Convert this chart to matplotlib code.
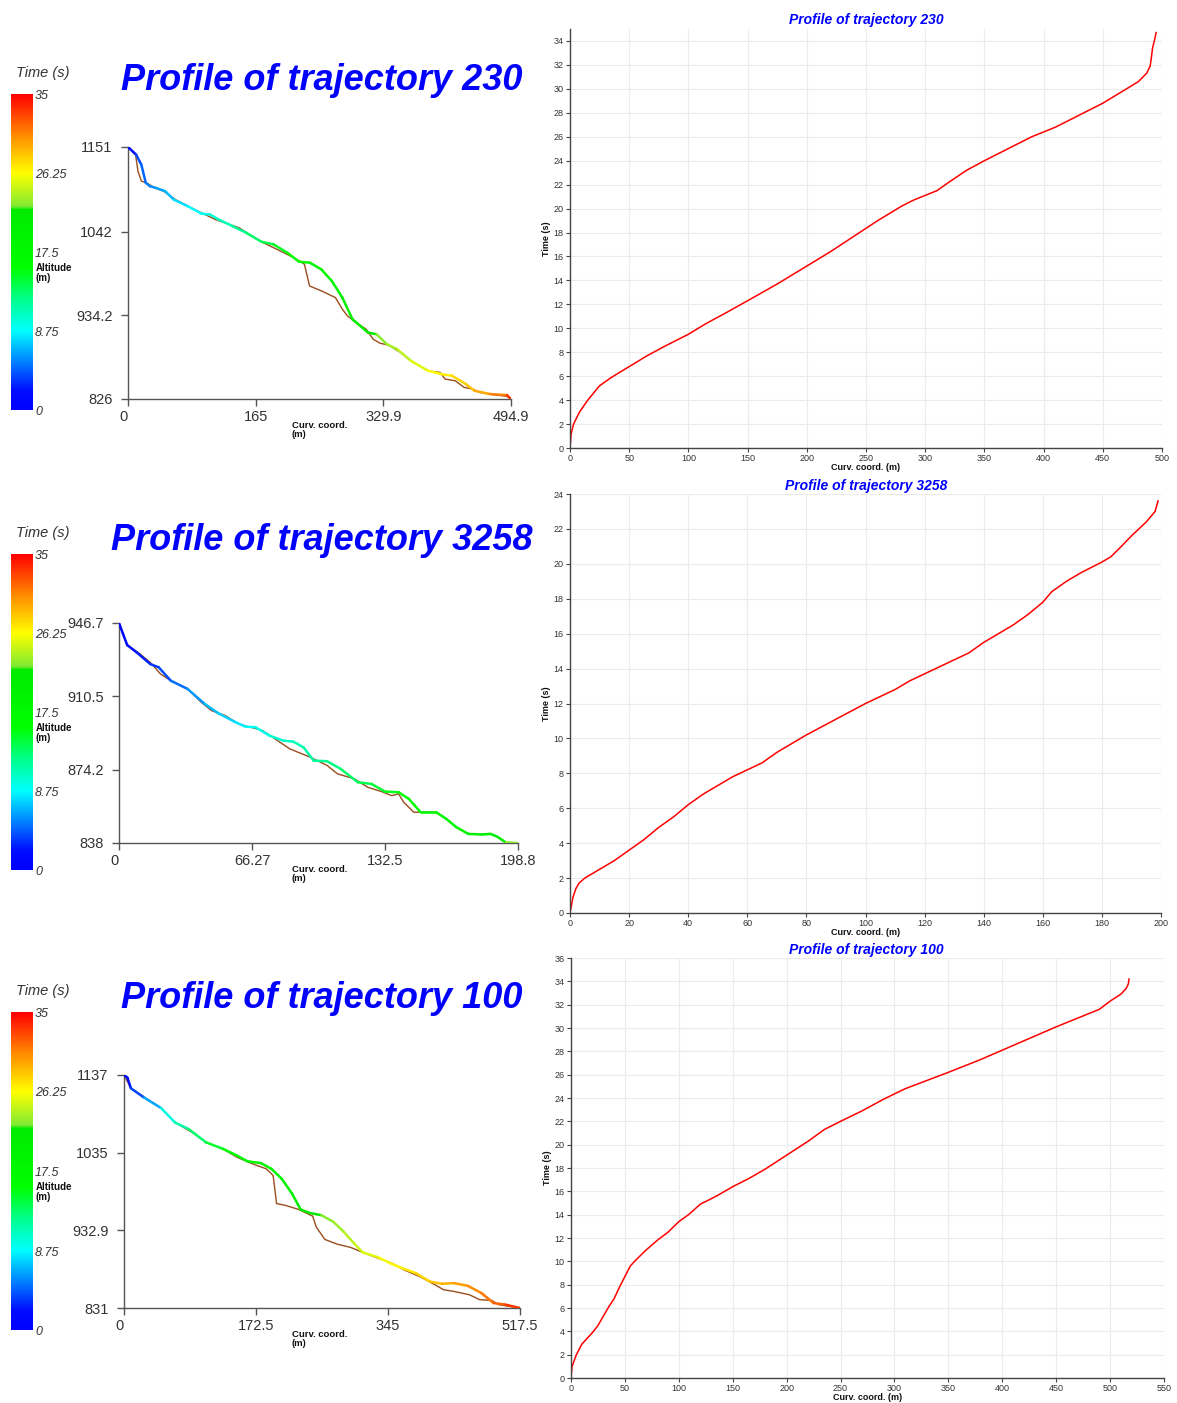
import numpy as np
import matplotlib
matplotlib.use("Agg")
import matplotlib.pyplot as plt
from matplotlib.collections import LineCollection
from matplotlib.colors import LinearSegmentedColormap, Normalize
import matplotlib.cm as cm

W, H = 1177, 1403
plt.rcParams['font.family'] = ['Liberation Sans', 'DejaVu Sans']

# ---------------- data ----------------
traj_ids = ["230", "3258", "100"]

# Time vs curvilinear coordinate (right panels)
t230_s = [0, 1, 3, 8, 15, 25, 35, 50, 65, 80, 100, 115, 130, 150, 175, 200, 220, 240, 260, 280, 290,
          300, 310, 320, 335, 350, 370, 390, 410, 430, 450, 470, 480, 487, 490, 491, 492, 494, 495]
t230_t = [0, 1.2, 2.0, 3.0, 4.0, 5.2, 5.9, 6.8, 7.7, 8.5, 9.5, 10.4, 11.2, 12.3, 13.7, 15.2, 16.4, 17.7,
          19.0, 20.2, 20.7, 21.1, 21.5, 22.2, 23.2, 24.0, 25.0, 26.0, 26.8, 27.8, 28.8, 30.0, 30.6, 31.3,
          31.9, 32.6, 33.4, 34.2, 34.7]

t3258_s = [0, 1, 2, 3, 5, 10, 15, 20, 25, 30, 35, 40, 45, 50, 55, 60, 65, 70, 80, 90, 100, 110, 115,
           120, 130, 135, 140, 150, 155, 160, 163, 168, 173, 180, 183, 186, 190, 195, 198, 199]
t3258_t = [0, 0.9, 1.4, 1.7, 2.0, 2.5, 3.0, 3.6, 4.2, 4.9, 5.5, 6.2, 6.8, 7.3, 7.8, 8.2, 8.6, 9.2, 10.2,
           11.1, 12.0, 12.8, 13.3, 13.7, 14.5, 14.9, 15.5, 16.5, 17.1, 17.8, 18.4, 19.0, 19.5, 20.1, 20.4,
           20.9, 21.6, 22.4, 23.0, 23.6]

t100_s = [0, 1, 5, 10, 15, 20, 25, 30, 35, 40, 45, 50, 55, 60, 70, 80, 90, 100, 109, 120, 135, 150, 165,
          180, 200, 220, 235, 250, 270, 290, 310, 330, 350, 380, 400, 450, 490, 500, 510, 515, 517, 517.5]
t100_t = [0, 1.0, 2.0, 2.9, 3.4, 3.9, 4.5, 5.3, 6.1, 6.8, 7.8, 8.7, 9.6, 10.1, 11.0, 11.8, 12.5, 13.4,
          14.0, 14.9, 15.6, 16.4, 17.1, 17.9, 19.1, 20.3, 21.3, 22.0, 22.9, 23.9, 24.8, 25.5, 26.2, 27.3,
          28.1, 30.1, 31.6, 32.3, 32.9, 33.4, 33.8, 34.2]

# Altitude profiles (left panels): trajectory (coloured by time) and terrain (brown)
p230_traj_s = [0, 10.6, 17.3, 23, 28.4, 37, 48, 59.4, 77, 95, 106, 117, 135, 152.6, 172.5, 188, 206,
               221, 235, 250, 263.5, 277, 290, 310, 321, 334.4, 347.7, 365.5, 387.7, 405.4, 418.7,
               436.5, 447.6, 467.5, 489.7, 494.9]
p230_traj_z = [1151, 1141, 1128, 1104.7, 1100.4, 1098, 1094, 1083, 1074.7, 1065, 1064, 1057.5, 1049,
               1040.4, 1028.8, 1025.4, 1014.6, 1003, 1001.8, 993, 978, 956.7, 928.9, 911.7, 909.6,
               896.7, 890.3, 875.3, 862.4, 858, 856, 845.3, 836.7, 832.4, 831, 826]
p230_terr_s = [0, 9.8, 12.9, 17.3, 24, 35, 46, 61.7, 82, 99.4, 112.7, 126, 143.7, 163.7, 174.8, 192.5,
               210, 223.5, 228, 234.6, 250, 268, 277, 283.4, 294.5, 307.8, 316.7, 325.6, 336.7, 352.2,
               365.5, 387.7, 403.2, 409.8, 423, 434.2, 445.3, 454, 471.7, 489.5, 494.9]
p230_terr_z = [1151, 1141, 1119.7, 1107, 1104.7, 1098, 1094, 1083, 1072.5, 1064, 1057.5, 1053, 1046.7,
               1034, 1027.5, 1019, 1010.4, 1003, 999.7, 971.8, 965.4, 956.8, 941.8, 933.3, 924.7, 916,
               903.2, 898, 895.4, 886, 875.3, 862.4, 860.3, 851.7, 849.5, 841, 838.9, 834.6, 831.6,
               829.4, 826]

p3258_traj_s = [0, 2, 4.07, 8.8, 15.6, 19.8, 25.8, 34.2, 42.7, 49.5, 58, 63, 68, 74.9, 81.7, 86.8, 91.9,
                97, 103.7, 110.5, 119, 125.8, 132.5, 139.3, 144.4, 150.3, 158, 163.1, 168.1, 174,
                180.8, 185.1, 188.5, 192.7, 198.8]
p3258_traj_z = [946.7, 941.3, 935.8, 932.2, 926.4, 924.8, 918.2, 914.1, 906.7, 902.1, 897.7, 895.5,
                895.2, 891.1, 888.6, 888.1, 885.3, 878.7, 878.4, 874.6, 868, 867.2, 863.4, 863.1,
                859.8, 853.2, 853.2, 849.9, 845.8, 842.5, 842.2, 842.5, 841.1, 838.3, 838]
p3258_terr_s = [0, 4.07, 10.5, 15.6, 20.7, 25.8, 34.2, 41, 46.1, 52.9, 59.6, 71.5, 85.1, 95.3, 103.7,
                108.8, 117.3, 124, 130.8, 135.9, 139.3, 141.8, 146.9, 151.2, 158, 163.1, 168.1, 174,
                180.8, 185.1, 188.5, 192.7, 198.8]
p3258_terr_z = [946.7, 935.8, 931.4, 927.2, 921.5, 918.2, 914.1, 907.5, 903.4, 901, 896.8, 893.6,
                884.5, 880.4, 876.3, 872.2, 869.7, 865.5, 863.4, 861.4, 862.3, 858.2, 853.2, 853.2,
                853.2, 849.9, 845.8, 842.5, 842.2, 842.5, 841.1, 838.3, 838]

p100_traj_s = [0, 4.5, 9, 26.1, 48.6, 66.6, 84.6, 107.1, 129.6, 147.6, 161.1, 179.1, 192.6, 206.1,
               219.6, 230.9, 242.1, 257.9, 273.6, 287.1, 300.6, 311.9, 332.1, 347.9, 363.6, 381.6,
               399.6, 415.4, 431.1, 449.1, 467.1, 482.9, 498.6, 517.5]
p100_traj_z = [1137, 1133.5, 1119.6, 1107.4, 1093.5, 1074.7, 1066, 1048.6, 1039.9, 1031.2, 1023.8,
               1021.2, 1013.8, 1000.7, 981.2, 960.3, 955.9, 952.9, 944.2, 931.1, 915.9, 904.1, 897.6,
               889.8, 883.3, 876.7, 865.8, 862.8, 863.7, 860.2, 850.6, 837.5, 835.4, 831]
p100_terr_s = [0, 9, 48.6, 66.6, 89.1, 107.1, 129.6, 147.6, 170.1, 185.9, 194.9, 199.4, 210.6, 228.6,
               246.6, 251.1, 262.4, 278.1, 296.1, 311.9, 332.1, 350.1, 365.9, 386.1, 404.1, 417.6,
               431.1, 451.4, 464.9, 480.6, 489.6, 503.1, 517.5]
p100_terr_z = [1137, 1119.6, 1093.5, 1074.7, 1061.6, 1048.6, 1039.9, 1029, 1019.5, 1013.8, 1005.1,
               968.1, 965.9, 960.3, 951.6, 937.6, 921.1, 915, 910.6, 904.1, 896.3, 889.8, 881.1, 872.4,
               862.8, 855, 852.8, 848.4, 841.9, 841, 835.4, 833.2, 831]

# axis tick labels of the left (profile) panels
alt_ticks = [[826, 934.2, 1042, 1151], [838, 874.2, 910.5, 946.7], [831, 932.9, 1035, 1137]]
curv_ticks = [[0, 165, 329.9, 494.9], [0, 66.27, 132.5, 198.8], [0, 172.5, 345, 517.5]]
cbar_ticks = [0, 8.75, 17.5, 26.25, 35]
cbar_labels = ["0", "8.75", "17.5", "26.25", "35"]

# right panel scales
right_xlim = [500, 200, 550]
right_xstep = [50, 20, 50]
right_ylim = [35, 24, 36]

# ---------------- layout (pixels) ----------------
left_boxes = [(128, 511, 147, 399), (119, 518, 623, 843), (124, 520, 1075, 1308)]
cbar_boxes = [(11, 33, 94, 410), (11, 33, 554, 870), (11, 33, 1012, 1330)]
right_boxes = [(570, 1162, 29, 448), (570, 1161, 494, 913), (571, 1164, 958, 1378)]
big_title_y = [80, 540, 998]
big_title_x = [322, 322, 322]
small_title_y = [20, 486, 950]


def rect(l, r, t, b):
    return [l / W, 1 - b / H, (r - l) / W, (b - t) / H]


cmap = LinearSegmentedColormap.from_list("pv", [
    (0.0, (0.0, 0.0, 1.0)),
    (0.06, (0.0, 0.05, 1.0)),
    (0.25, (0.0, 1.0, 1.0)),
    (0.35, (0.0, 1.0, 0.55)),
    (0.45, (0.0, 1.0, 0.0)),
    (0.635, (0.0, 0.92, 0.0)),
    (0.645, (0.5, 0.92, 0.2)),
    (0.75, (1.0, 1.0, 0.0)),
    (0.87, (1.0, 0.55, 0.0)),
    (1.0, (1.0, 0.0, 0.0)),
])
norm = Normalize(0, 35)

fig = plt.figure(figsize=(W / 100, H / 100), dpi=100)
fig.patch.set_facecolor("white")

profiles = [
    (p230_traj_s, p230_traj_z, p230_terr_s, p230_terr_z, t230_s, t230_t),
    (p3258_traj_s, p3258_traj_z, p3258_terr_s, p3258_terr_z, t3258_s, t3258_t),
    (p100_traj_s, p100_traj_z, p100_terr_s, p100_terr_z, t100_s, t100_t),
]

for i in range(3):
    ts, tz, gs, gz, time_s, time_t = profiles[i]
    # ---------- left profile panel ----------
    ax = fig.add_axes(rect(*left_boxes[i]))
    ax.plot(gs, gz, color="#9a4d1c", lw=1.0, zorder=2)
    tsa = np.asarray(ts, float)
    tza = np.asarray(tz, float)
    tt = np.interp(tsa, time_s, time_t)
    pts = np.column_stack([tsa, tza]).reshape(-1, 1, 2)
    segs = np.concatenate([pts[:-1], pts[1:]], axis=1)
    lc = LineCollection(segs, cmap=cmap, norm=norm, linewidths=1.8, zorder=3, capstyle="round")
    lc.set_array(0.5 * (tt[:-1] + tt[1:]))
    ax.add_collection(lc)
    ax.set_xlim(0, curv_ticks[i][-1])
    ax.set_ylim(alt_ticks[i][0], alt_ticks[i][-1])
    for sp in ["top", "right"]:
        ax.spines[sp].set_visible(False)
    for sp in ["left", "bottom"]:
        ax.spines[sp].set_color("#555555")
        ax.spines[sp].set_linewidth(1.0)
    ax.set_yticks(alt_ticks[i])
    ax.set_yticklabels([("%g" % v) for v in alt_ticks[i]])
    ax.set_xticks(curv_ticks[i])
    ax.set_xticklabels([("%g" % v) for v in curv_ticks[i]])
    ax.tick_params(axis="both", colors="#555555", labelcolor="#333333", labelsize=10.5,
                   length=5, width=1.0, direction="out")
    ax.tick_params(axis="y", pad=6)
    ax.tick_params(axis="x", pad=3)
    xl = ax.get_xticklabels()
    xl[0].set_horizontalalignment("right")
    ax.set_facecolor("none")
    l, r, t, b = left_boxes[i]
    fig.text(292 / W, 1 - (b + 31) / H, "Curv. coord.\n(m)", fontsize=6.8, fontweight="bold",
             ha="left", va="center", linespacing=1.0, color="#111111")

    # colour bar
    cl, cr, ct, cb = cbar_boxes[i]
    cax = fig.add_axes(rect(cl, cr, ct, cb))
    grad = np.linspace(0, 35, 256).reshape(-1, 1)
    cax.imshow(grad, cmap=cmap, norm=norm, aspect="auto", origin="lower", extent=[0, 1, 0, 35])
    cax.set_xticks([])
    cax.set_yticks([])
    for sp in cax.spines.values():
        sp.set_visible(False)
    for v, lab in zip(cbar_ticks, cbar_labels):
        yy = cb - (cb - ct) * v / 35.0
        fig.text(35 / W, 1 - (yy + 2) / H, lab, fontsize=9, fontstyle="italic", color="#333333",
                 ha="left", va="center")
    fig.text(16 / W, 1 - (ct - 21) / H, "Time (s)", fontsize=10.5, fontstyle="italic",
             color="#333333", ha="left", va="center")
    fig.text(36 / W, 1 - ((ct + cb) / 2 + 21) / H, "Altitude\n(m)", fontsize=7, fontweight="bold",
             ha="left", va="center", linespacing=1.0, color="#111111")
    fig.text(big_title_x[i] / W, 1 - big_title_y[i] / H, "Profile of trajectory " + traj_ids[i],
             fontsize=26, fontweight="bold", fontstyle="italic", color="#0000ff",
             ha="center", va="center")

    # ---------- right time panel ----------
    ax2 = fig.add_axes(rect(*right_boxes[i]))
    ax2.plot(time_s, time_t, color="#ff0000", lw=1.1)
    ax2.set_xlim(0, right_xlim[i])
    ax2.set_ylim(0, right_ylim[i])
    ax2.set_xticks(np.arange(0, right_xlim[i] + 1, right_xstep[i]))
    ax2.set_yticks(np.arange(0, right_ylim[i] + 0.1, 2))
    ax2.grid(True, color="#ebebeb", lw=0.8)
    ax2.set_axisbelow(True)
    for sp in ["top", "right"]:
        ax2.spines[sp].set_visible(False)
    for sp in ["left", "bottom"]:
        ax2.spines[sp].set_color("#444444")
        ax2.spines[sp].set_linewidth(1.0)
    ax2.tick_params(axis="both", colors="#444444", labelcolor="#333333", labelsize=6.5,
                    length=3, width=0.8, pad=1.5)
    ax2.set_xlabel("Curv. coord. (m)", fontsize=6.5, fontweight="bold", labelpad=0, color="#111111")
    ax2.set_ylabel("Time (s)", fontsize=6.5, fontweight="bold", labelpad=2, color="#111111")
    rl, rr, rt, rb = right_boxes[i]
    fig.text(866 / W, 1 - small_title_y[i] / H, "Profile of trajectory " + traj_ids[i],
             fontsize=10, fontweight="bold", fontstyle="italic", color="#0000ff",
             ha="center", va="center")

fig.savefig("out.png", dpi=100, facecolor="white")
